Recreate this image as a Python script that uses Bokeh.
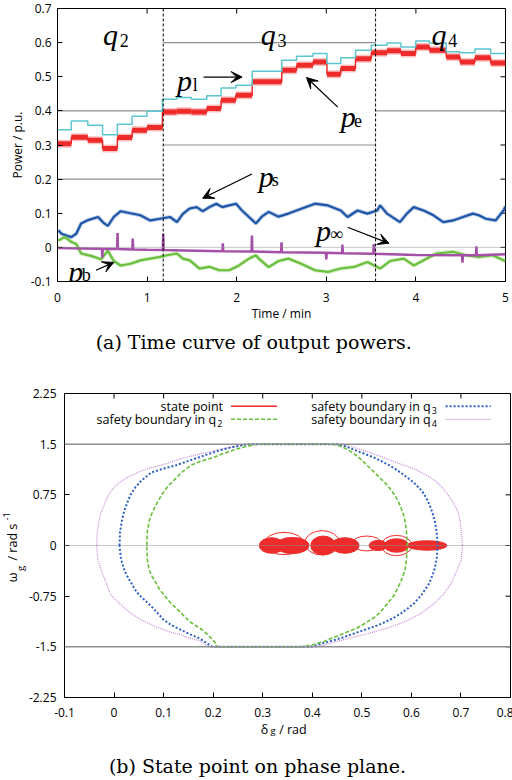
import math
from bokeh.plotting import figure
from bokeh.models import FixedTicker, LinearAxis, Range1d, Label, Arrow, VeeHead, Span
from bokeh.layouts import column
from bokeh.embed import file_html
from bokeh.resources import INLINE

# ================= (a) time curve of output powers =================
x_ticks_a = [0, 1, 2, 3, 4, 5]
x_labels_a = ["0", "1", "2", "3", "4", "5"]
y_ticks_a = [-0.1, 0.0, 0.1, 0.2, 0.3, 0.4, 0.5, 0.6, 0.7]
y_labels_a = ["-0.1", "0", "0.1", "0.2", "0.3", "0.4", "0.5", "0.6", "0.7"]

step_times = [0, 0.154, 0.338, 0.503, 0.668, 0.833, 0.999, 1.171, 1.329, 1.494, 1.666,
              1.825, 1.99, 2.173, 2.503, 2.668, 2.852, 3.007, 3.161, 3.326, 3.502, 3.678,
              3.833, 3.998, 4.152, 4.339, 4.493, 4.659, 4.835, 5.0]
p_load = [0.345, 0.370, 0.358, 0.330, 0.361, 0.384, 0.399, 0.434, 0.439, 0.434, 0.444,
          0.467, 0.475, 0.516, 0.548, 0.560, 0.568, 0.539, 0.556, 0.578, 0.592, 0.599,
          0.587, 0.605, 0.599, 0.573, 0.570, 0.581, 0.568]
p_elec = [0.304, 0.323, 0.314, 0.290, 0.322, 0.343, 0.351, 0.397, 0.399, 0.397, 0.407,
          0.431, 0.446, 0.485, 0.519, 0.534, 0.543, 0.507, 0.524, 0.553, 0.570, 0.576,
          0.568, 0.587, 0.578, 0.558, 0.543, 0.556, 0.540]

ps_t = [0.01, 0.044, 0.099, 0.154, 0.209, 0.264, 0.341, 0.452, 0.518, 0.562, 0.628, 0.705,
        0.815, 0.925, 1.035, 1.145, 1.256, 1.333, 1.399, 1.476, 1.553, 1.619, 1.696, 1.773,
        1.839, 1.916, 1.993, 2.059, 2.137, 2.214, 2.28, 2.357, 2.467, 2.577, 2.72, 2.874,
        3.018, 3.161, 3.238, 3.348, 3.458, 3.568, 3.601, 3.678, 3.822, 3.899, 3.976, 4.086,
        4.196, 4.306, 4.416, 4.526, 4.637, 4.703, 4.78, 4.89, 4.978, 5.0]
ps_v = [0.05, 0.04, 0.035, 0.03, 0.04, 0.07, 0.08, 0.089, 0.071, 0.063, 0.089, 0.106,
        0.10, 0.094, 0.079, 0.084, 0.089, 0.074, 0.098, 0.114, 0.118, 0.106, 0.118, 0.128,
        0.118, 0.123, 0.128, 0.108, 0.089, 0.07, 0.09, 0.104, 0.09, 0.099, 0.113, 0.128,
        0.123, 0.108, 0.089, 0.108, 0.099, 0.108, 0.123, 0.099, 0.074, 0.099, 0.118, 0.108,
        0.094, 0.074, 0.079, 0.089, 0.099, 0.094, 0.084, 0.079, 0.108, 0.12]

pb_t = [0.01, 0.044, 0.077, 0.11, 0.154, 0.209, 0.264, 0.374, 0.485, 0.562, 0.628, 0.705,
        0.815, 0.925, 1.035, 1.145, 1.222, 1.333, 1.399, 1.476, 1.586, 1.696, 1.806, 1.916,
        2.026, 2.137, 2.214, 2.247, 2.357, 2.467, 2.577, 2.72, 2.874, 3.018, 3.161, 3.315,
        3.458, 3.601, 3.711, 3.866, 3.976, 4.086, 4.229, 4.416, 4.559, 4.703, 4.857, 4.978, 5.0]
pb_v = [0.02, 0.025, 0.03, 0.025, 0.016, 0.01, -0.018, -0.025, -0.035, -0.01, -0.04, -0.053,
        -0.048, -0.038, -0.033, -0.028, -0.023, -0.018, -0.033, -0.038, -0.062, -0.057, -0.067,
        -0.067, -0.053, -0.033, -0.023, -0.033, -0.058, -0.04, -0.033, -0.048, -0.067, -0.072,
        -0.062, -0.057, -0.043, -0.062, -0.04, -0.033, -0.053, -0.038, -0.018, -0.013, -0.023,
        -0.028, -0.023, -0.038, -0.04]

pinf_t = [0, 0.3, 0.495, 0.5, 0.505, 0.665, 0.67, 0.675, 0.835, 0.84, 0.845, 1.0, 1.175,
          1.18, 1.185, 1.4, 1.84, 1.845, 1.85, 2.165, 2.17, 2.175, 2.495, 2.5, 2.505, 2.995,
          3.0, 3.005, 3.175, 3.18, 3.185, 3.525, 3.53, 3.535, 4.0, 4.515, 4.52, 4.525, 4.67,
          4.675, 4.68, 5.0]
pinf_v = [-0.002, -0.003, -0.004, -0.03, -0.004, -0.005, 0.042, -0.005, -0.006, 0.026,
          -0.006, -0.007, -0.008, 0.04, -0.008, -0.009, -0.011, 0.012, -0.011, -0.012, 0.035,
          -0.012, -0.014, 0.015, -0.014, -0.016, -0.035, -0.016, -0.017, 0.008, -0.017,
          -0.019, 0.01, -0.019, -0.022, -0.023, -0.045, -0.023, -0.023, 0.003, -0.023, -0.02]

region_bounds = [0.0, 1.18, 3.55, 5.0]
region_upper = [0.4, 0.6, 0.8]
region_lower = [0.2, 0.3, 0.4]
region_names = ["2", "3", "4"]

# ================= (b) state point on phase plane =================
x_ticks_b = [-0.1, 0.0, 0.1, 0.2, 0.3, 0.4, 0.5, 0.6, 0.7, 0.8]
x_labels_b = ["-0.1", "0", "0.1", "0.2", "0.3", "0.4", "0.5", "0.6", "0.7", "0.8"]
y_ticks_b = [-2.25, -1.5, -0.75, 0.0, 0.75, 1.5, 2.25]
y_labels_b = ["-2.25", "-1.5", "-0.75", "0", "0.75", "1.5", "2.25"]
omega_limit = 1.5

q2_delta = [0.066, 0.067, 0.071, 0.076, 0.082, 0.089, 0.097, 0.108, 0.12, 0.136, 0.155, 0.176,
            0.2, 0.218, 0.236, 0.253, 0.27, 0.282, 0.292,
            0.44, 0.452, 0.463, 0.476, 0.491, 0.502, 0.51, 0.52, 0.53, 0.548, 0.557, 0.565,
            0.573, 0.579, 0.584, 0.587, 0.59, 0.592,
            0.59, 0.587, 0.582, 0.577, 0.571, 0.565, 0.552, 0.535, 0.524, 0.511, 0.5, 0.488,
            0.47, 0.451, 0.424, 0.40, 0.377,
            0.209, 0.204, 0.197, 0.189, 0.18, 0.168, 0.155, 0.142, 0.13, 0.115, 0.101, 0.092,
            0.085, 0.077, 0.071, 0.067, 0.066]
q2_omega = [0, 0.2, 0.37, 0.47, 0.56, 0.66, 0.76, 0.87, 0.96, 1.08, 1.187, 1.25,
            1.30, 1.355, 1.40, 1.44, 1.47, 1.49, 1.5,
            1.5, 1.48, 1.45, 1.40, 1.32, 1.25, 1.19, 1.12, 1.05, 0.92, 0.84, 0.76,
            0.66, 0.56, 0.46, 0.37, 0.2, 0,
            -0.2, -0.37, -0.47, -0.56, -0.65, -0.735, -0.858, -1.005, -1.07, -1.13, -1.18, -1.23,
            -1.28, -1.34, -1.42, -1.47, -1.5,
            -1.5, -1.44, -1.38, -1.32, -1.26, -1.2, -1.14, -1.05, -0.96, -0.86, -0.735, -0.65,
            -0.56, -0.46, -0.37, -0.2, 0]

q3_delta = [0.011, 0.012, 0.016, 0.019, 0.023, 0.028, 0.034, 0.043, 0.055, 0.075, 0.1, 0.125,
            0.147, 0.169, 0.189, 0.209, 0.229, 0.249, 0.262, 0.275,
            0.45, 0.47, 0.49, 0.508, 0.525, 0.54, 0.555, 0.568, 0.58, 0.593, 0.605, 0.616,
            0.626, 0.633, 0.639, 0.643, 0.647, 0.651, 0.653,
            0.651, 0.646, 0.641, 0.636, 0.628, 0.62, 0.605, 0.593, 0.579, 0.562, 0.542, 0.525,
            0.505, 0.478, 0.458, 0.44, 0.42, 0.397,
            0.199, 0.19, 0.18, 0.168, 0.155, 0.135, 0.115, 0.1, 0.088, 0.075, 0.062, 0.051,
            0.042, 0.035, 0.027, 0.021, 0.014, 0.011]
q3_omega = [0, 0.2, 0.37, 0.47, 0.56, 0.66, 0.76, 0.86, 0.96, 1.08, 1.14, 1.187,
            1.245, 1.30, 1.35, 1.40, 1.44, 1.47, 1.49, 1.5,
            1.5, 1.46, 1.40, 1.35, 1.30, 1.245, 1.19, 1.13, 1.07, 1.0, 0.93, 0.85,
            0.76, 0.66, 0.56, 0.47, 0.37, 0.2, 0,
            -0.2, -0.37, -0.47, -0.56, -0.65, -0.735, -0.858, -0.93, -1.005, -1.08, -1.15, -1.2,
            -1.25, -1.32, -1.37, -1.41, -1.45, -1.5,
            -1.5, -1.46, -1.41, -1.36, -1.32, -1.25, -1.176, -1.1, -1.0, -0.9, -0.81, -0.735,
            -0.65, -0.56, -0.46, -0.37, -0.2, 0]

q4_delta = [-0.035, -0.034, -0.03, -0.027, -0.022, -0.017, -0.01, 0.0, 0.01, 0.03, 0.05, 0.072,
            0.095, 0.118, 0.142, 0.165, 0.189, 0.209, 0.229, 0.246, 0.262, 0.275,
            0.46, 0.485, 0.51, 0.538, 0.565, 0.588, 0.61, 0.63, 0.649, 0.662, 0.673, 0.682,
            0.69, 0.695, 0.698, 0.701, 0.703,
            0.701, 0.692, 0.686, 0.68, 0.672, 0.663, 0.646, 0.633, 0.619, 0.6, 0.579, 0.56,
            0.538, 0.504, 0.48, 0.45, 0.43, 0.41,
            0.19, 0.183, 0.175, 0.158, 0.142, 0.135, 0.118, 0.101, 0.081, 0.068, 0.05, 0.034,
            0.022, 0.011, -0.006, -0.011, -0.015, -0.021, -0.026, -0.033, -0.035]
q4_omega = [0, 0.2, 0.37, 0.47, 0.56, 0.66, 0.76, 0.86, 0.93, 1.02, 1.09, 1.145,
            1.187, 1.245, 1.30, 1.34, 1.38, 1.415, 1.446, 1.47, 1.49, 1.5,
            1.5, 1.45, 1.39, 1.32, 1.24, 1.18, 1.12, 1.04, 0.956, 0.86, 0.76, 0.66,
            0.56, 0.47, 0.37, 0.2, 0,
            -0.2, -0.37, -0.47, -0.56, -0.65, -0.735, -0.858, -0.93, -1.005, -1.08, -1.15, -1.2,
            -1.25, -1.32, -1.36, -1.42, -1.46, -1.5,
            -1.5, -1.46, -1.42, -1.38, -1.35, -1.32, -1.29, -1.25, -1.19, -1.15, -1.08, -1.005,
            -0.93, -0.858, -0.735, -0.65, -0.56, -0.46, -0.37, -0.2, 0]

# state point trajectory clusters (centre delta, width, height) and outer loops
sp_fill_d = [0.318, 0.36, 0.422, 0.466, 0.533, 0.57, 0.632]
sp_fill_w = [0.05, 0.067, 0.05, 0.057, 0.037, 0.05, 0.08]
sp_fill_h = [0.23, 0.24, 0.28, 0.23, 0.15, 0.2, 0.14]
sp_loop_d = [0.343, 0.42, 0.51, 0.57]
sp_loop_o = [0.03, 0.04, 0.03, 0.0]
sp_loop_w = [0.08, 0.07, 0.06, 0.062]
sp_loop_h = [0.33, 0.36, 0.22, 0.3]

# ================= styling =================
SANS = "Open Sans"
SERIF = "DejaVu Serif"
MATH = "Liberation Serif"
CYAN, RED, BLUE, GREEN, PURPLE, GRAY = "#5cc6d0", "#ee2b2b", "#1f56a8", "#6abf3c", "#a450a8", "#8f8f8f"
BBLUE, BPURPLE = "#2a5fc4", "#c88ad6"


def style_main(ax, standoff):
    ax.major_tick_in = 5
    ax.major_tick_out = 0
    ax.minor_tick_line_color = None
    ax.axis_line_color = "black"
    ax.major_tick_line_color = "black"
    ax.major_label_text_font = SANS
    ax.major_label_text_font_size = "12px"
    ax.major_label_text_color = "black"
    ax.major_label_standoff = standoff
    ax.axis_label_text_font = SANS
    ax.axis_label_text_font_size = "12px"
    ax.axis_label_text_font_style = "normal"
    ax.axis_label_text_color = "black"


def setup_axes(p, xt, xl, yt, yl, xstand, ystand):
    bx, ly = p.below[0], p.left[0]
    bx.ticker = FixedTicker(ticks=xt)
    ly.ticker = FixedTicker(ticks=yt)
    bx.major_label_overrides = dict(zip(xt, xl))
    ly.major_label_overrides = dict(zip(yt, yl))
    style_main(bx, xstand)
    style_main(ly, ystand)
    # mirrored inward ticks on the top and right edges (gnuplot style)
    p.ray(x=xt, y=[yt[-1]] * len(xt), length=5, length_units="screen",
          angle=-math.pi / 2, line_color="black", line_width=1)
    p.ray(x=[xt[-1]] * len(yt), y=yt, length=5, length_units="screen",
          angle=math.pi, line_color="black", line_width=1)
    p.outline_line_color = "black"
    p.grid.visible = False
    return bx, ly


def piece_axis(p, side, ticks, texts, size, standoff, vertical=False, font=SANS):
    ax = LinearAxis(ticker=FixedTicker(ticks=ticks), major_label_overrides=dict(zip(ticks, texts)),
                    major_label_text_font=font, major_label_text_font_size=f"{size}px",
                    major_label_text_color="black", major_label_standoff=standoff,
                    major_tick_line_color=None, minor_tick_line_color=None,
                    axis_line_color=None, major_tick_in=0, major_tick_out=0)
    if vertical:
        ax.major_label_orientation = "vertical"
    p.add_layout(ax, side)


def lab(p, x, y, text, size, font=SANS, style="normal", align="left",
        baseline="alphabetic", xo=0, yo=0):
    p.add_layout(Label(x=x, y=y, text=text, text_font=font, text_font_size=f"{size}px",
                       text_font_style=style, text_align=align, text_baseline=baseline,
                       x_offset=xo, y_offset=yo, text_color="black"))


def arrow(p, x0, y0, x1, y1):
    p.add_layout(Arrow(end=VeeHead(size=11, fill_color="black", line_color="black"),
                       x_start=x0, y_start=y0, x_end=x1, y_end=y1,
                       line_color="black", line_width=1.3))


# ---------------- figure (a) ----------------
p1 = figure(frame_width=454, frame_height=273, x_range=Range1d(x_ticks_a[0], x_ticks_a[-1]),
            y_range=Range1d(y_ticks_a[0], y_ticks_a[-1]), output_backend="svg",
            toolbar_location=None, min_border_left=63, min_border_right=2,
            min_border_top=8, min_border_bottom=87, margin=(0, 0, 0, -7))
bx1, ly1 = setup_axes(p1, x_ticks_a, x_labels_a, y_ticks_a, y_labels_a, 11, 6)
bx1.axis_label = "Time / min"
bx1.axis_label_standoff = 0
ly1.axis_label = "Power / p.u."
ly1.axis_label_standoff = 2
piece_axis(p1, "below", [2.19], ["(a) Time curve of output powers."], 19, 6, font=SERIF)

p1.add_layout(Span(location=0, dimension="width", line_color=GRAY, line_dash="1 1", line_width=1))
p1.segment(x0=region_bounds[:-1], x1=region_bounds[1:], y0=region_upper, y1=region_upper,
           line_color=GRAY, line_width=1.2)
p1.segment(x0=region_bounds[:-1], x1=region_bounds[1:], y0=region_lower, y1=region_lower,
           line_color=GRAY, line_width=1.2)
for b in region_bounds[1:-1]:
    p1.add_layout(Span(location=b, dimension="height", line_color="black",
                       line_dash="3 2", line_width=1))

p1.line(ps_t, ps_v, line_color=BLUE, line_width=4, line_alpha=0.3)
p1.line(ps_t, ps_v, line_color=BLUE, line_width=2.2)
p1.line(pb_t, pb_v, line_color=GREEN, line_width=4, line_alpha=0.3)
p1.line(pb_t, pb_v, line_color=GREEN, line_width=2.2)
p1.line(pinf_t, pinf_v, line_color=PURPLE, line_width=2.5)
p1.step(step_times, p_elec + p_elec[-1:], mode="after", line_color=RED, line_width=1.5)
p1.segment(x0=step_times[:-1], x1=step_times[1:], y0=p_elec, y1=p_elec,
           line_color=RED, line_width=8, line_alpha=0.3, line_cap="butt")
p1.segment(x0=step_times[:-1], x1=step_times[1:], y0=p_elec, y1=p_elec,
           line_color=RED, line_width=5, line_cap="butt")
p1.step(step_times, p_load + p_load[-1:], mode="after", line_color=CYAN, line_width=1.5)

# region labels q2, q3, q4
q_pos = [0.507, 2.269, 4.174]
for qx, name in zip(q_pos, region_names):
    lab(p1, qx, 0.625, "q", 30, MATH, "italic")
    lab(p1, qx + 0.187, 0.607, name, 18, MATH)

# curve labels with arrows
lab(p1, 1.333, 0.49, "p", 30, MATH, "italic"); lab(p1, 1.51, 0.476, "l", 18, MATH)
arrow(p1, 1.63, 0.499, 2.06, 0.499)
lab(p1, 3.161, 0.384, "p", 30, MATH, "italic"); lab(p1, 3.31, 0.372, "e", 18, MATH)
arrow(p1, 3.128, 0.411, 2.779, 0.498)
lab(p1, 2.247, 0.208, "p", 30, MATH, "italic"); lab(p1, 2.39, 0.196, "s", 18, MATH)
arrow(p1, 2.17, 0.215, 1.62, 0.144)
lab(p1, 2.885, 0.05, "p", 30, MATH, "italic"); lab(p1, 3.04, 0.038, "\u221e", 18, MATH)
arrow(p1, 3.238, 0.059, 3.70, 0.012)
lab(p1, 0.121, -0.07, "p", 30, MATH, "italic"); lab(p1, 0.27, -0.082, "b", 18, MATH)
arrow(p1, 0.43, -0.067, 0.628, -0.044)

# ---------------- figure (b) ----------------
p2 = figure(frame_width=446, frame_height=304, x_range=Range1d(x_ticks_b[0], x_ticks_b[-1]),
            y_range=Range1d(y_ticks_b[0], y_ticks_b[-1]), output_backend="svg",
            toolbar_location=None, min_border_left=63, min_border_right=3,
            min_border_top=25, min_border_bottom=83)
setup_axes(p2, x_ticks_b, x_labels_b, y_ticks_b, y_labels_b, 10, 8)
# x axis label  "delta_g / rad"
piece_axis(p2, "below", [0.3035, 0.361], ["\u03b4", "/ rad"], 12.5, 1)
piece_axis(p2, "below", [0.3207], ["g"], 9.5, -17)
# y axis label  "omega_g / rad s^-1"
piece_axis(p2, "left", [-0.34], ["g"], 9.5, -2, vertical=True)
piece_axis(p2, "left", [-0.474, 0.05], ["\u03c9", "/ rad s"], 12.5, -10, vertical=True)
piece_axis(p2, "left", [0.43], ["-1"], 9, -9, vertical=True)
piece_axis(p2, "below", [0.2894], ["(b) State point on phase plane."], 19, 14, font=SERIF)

p2.add_layout(Span(location=0, dimension="width", line_color=GRAY, line_dash="1 1", line_width=1))
for s in (omega_limit, -omega_limit):
    p2.add_layout(Span(location=s, dimension="width", line_color=GRAY, line_width=1.5))

p2.ellipse(x=sp_loop_d, y=sp_loop_o, width=sp_loop_w, height=sp_loop_h,
           fill_color=None, line_color=RED, line_width=1)
p2.ellipse(x=sp_fill_d, y=[0] * len(sp_fill_d), width=sp_fill_w, height=sp_fill_h,
           fill_color=RED, line_color=RED, line_width=1)

p2.line(q4_delta, q4_omega, line_color=BPURPLE, line_dash="1 1", line_width=1.2)
p2.line(q3_delta, q3_omega, line_color=BBLUE, line_dash="2 2", line_width=2)
p2.line(q2_delta, q2_omega, line_color=GREEN, line_dash="4 2", line_width=1.6)

# legend (gnuplot style: text, then sample)
r1, r2 = 2.06, 1.868
lab(p2, 0.22, r1, "state point", 12.5, baseline="middle", align="right")
lab(p2, 0.206, r2, "safety boundary in q", 12.5, baseline="middle", align="right")
lab(p2, 0.208, r2, "2", 9, baseline="middle", yo=-4)
lab(p2, 0.639, r1, "safety boundary in q", 12.5, baseline="middle", align="right")
lab(p2, 0.641, r1, "3", 9, baseline="middle", yo=-4)
lab(p2, 0.639, r2, "safety boundary in q", 12.5, baseline="middle", align="right")
lab(p2, 0.641, r2, "4", 9, baseline="middle", yo=-4)
p2.segment(x0=[0.236], x1=[0.329], y0=[r1], y1=[r1], line_color=RED, line_width=1.5)
p2.segment(x0=[0.236], x1=[0.329], y0=[r2], y1=[r2], line_color=GREEN, line_width=1.6, line_dash="4 2")
p2.segment(x0=[0.669], x1=[0.76], y0=[r1], y1=[r1], line_color=BBLUE, line_width=2, line_dash="2 2")
p2.segment(x0=[0.669], x1=[0.76], y0=[r2], y1=[r2], line_color=BPURPLE, line_width=1.2, line_dash="1 1")

layout = column(p1, p2)
open("out.html", "w").write(file_html(layout, INLINE))
